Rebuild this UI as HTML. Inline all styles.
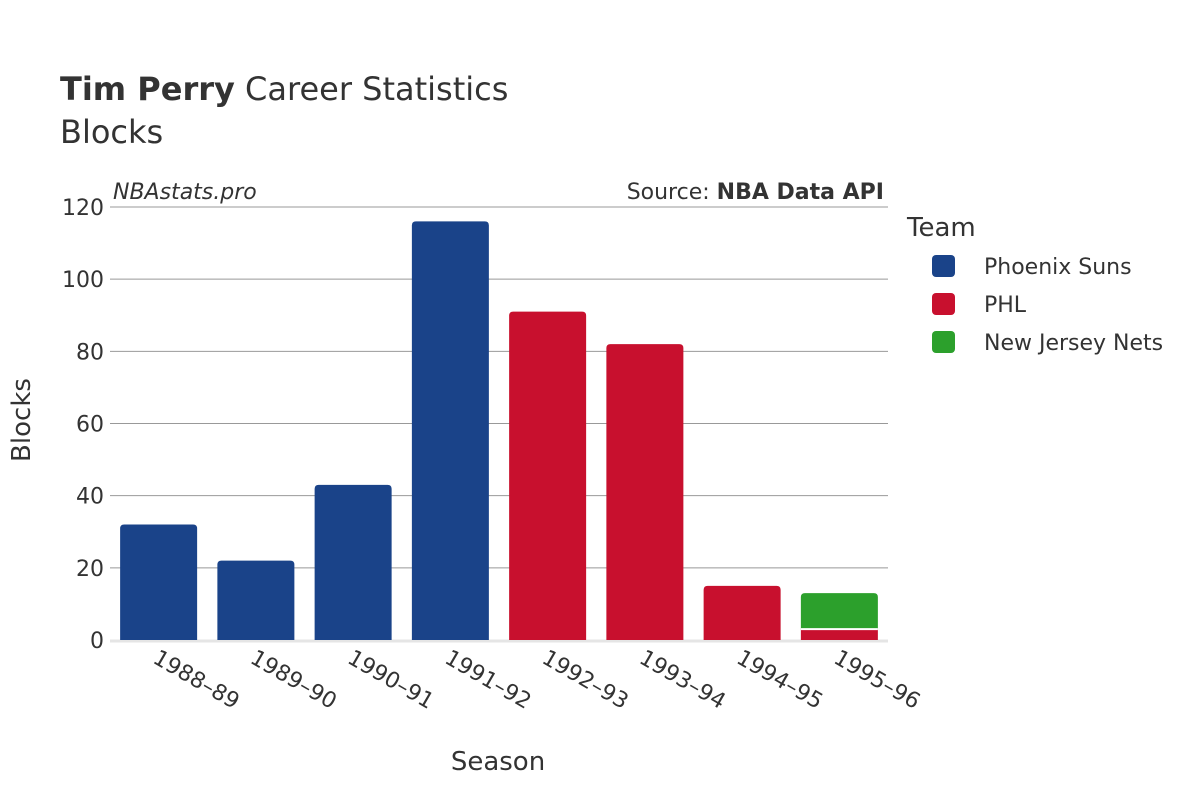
<!DOCTYPE html>
<html><head><meta charset="utf-8"><style>
body{margin:0;background:#fff;}
svg{font-family:"DejaVu Sans","Liberation Sans",sans-serif;}
</style></head><body>
<svg id="chart" width="1200" height="800" viewBox="0 0 1200 800">
<text x="60" y="100" font-size="32" fill="#333"><tspan font-weight="bold">Tim Perry</tspan> Career Statistics</text>
<text x="60" y="143" font-size="32" fill="#333">Blocks</text>
<text x="113" y="199" font-size="22" font-style="italic" fill="#333">NBAstats.pro</text>
<text x="884" y="199" font-size="22" fill="#333" text-anchor="end">Source: <tspan font-weight="bold">NBA Data API</tspan></text>
<g id="grid"></g>
<g id="bars"></g>
<g id="xticks"></g>
<text x="30" y="420" font-size="26" fill="#333" text-anchor="middle" transform="rotate(-90 30 420)">Blocks</text>
<text x="498" y="770" font-size="26" fill="#333" text-anchor="middle">Season</text>
<g>
<text x="907" y="236" font-size="26" fill="#333">Team</text>
<g><rect x="932" y="255" width="23" height="22" rx="4" fill="#1a4389"/><text x="984" y="274" font-size="22" fill="#333">Phoenix Suns</text></g>
<g><rect x="932" y="293" width="23" height="22" rx="4" fill="#c8102e"/><text x="984" y="312" font-size="22" fill="#333">PHL</text></g>
<g><rect x="932" y="331" width="23" height="22" rx="4" fill="#2ca02c"/><text x="984" y="350" font-size="22" fill="#333">New Jersey Nets</text></g>
</g>
</svg>
<script>
const seasons=["1988–89","1989–90","1990–91","1991–92","1992–93","1993–94","1994–95","1995–96"];
const suns=[32,22,43,116,0,0,0,0];
const phl=[0,0,0,0,91,82,15,3];
const nets=[0,0,0,0,0,0,0,10];
const yTicks=[0,20,40,60,80,100,120];
const NS="http://www.w3.org/2000/svg";
const x0=110,x1=888,y0=640,y1=207,yMax=120;
const bw=(x1-x0)/seasons.length;
function y(v){return y0-(v/yMax)*(y0-y1);}
function xc(i){return x0+bw*(i+0.5);}
function mk(t,a,p){const e=document.createElementNS(NS,t);for(const k in a)e.setAttribute(k,a[k]);p.appendChild(e);return e;}
const grid=document.getElementById('grid');
yTicks.forEach(t=>{
  if(t>0){const l=mk('line',{x1:x0,x2:x1,y1:y(t),y2:y(t),stroke:'#999','stroke-width':1},grid);
  
  }
  const tx=mk('text',{x:104,y:y(t)+8,'font-size':22,fill:'#333','text-anchor':'end'},grid);
  tx.textContent=t;
  
  
});
const base=mk('line',{x1:x0,x2:x1,y1:y0+1,y2:y0+1,stroke:'#e5e5e5','stroke-width':3},grid);


const bars=document.getElementById('bars');
function bar(i,lo,hi,color,name,round){
  const w=77,l=xc(i)-w/2,r=l+w,yt=y(hi),yb=y(lo),rr=round?Math.min(4,(yb-yt)/2):0;
  const d=`M${l},${yb}L${l},${yt+rr}Q${l},${yt} ${l+rr},${yt}L${r-rr},${yt}Q${r},${yt} ${r},${yt+rr}L${r},${yb}Z`;
  const p=mk('path',{d:d,fill:color},bars);
  
  
}
seasons.forEach((s,i)=>{
  let acc=0;
  if(suns[i]>0){bar(i,acc,acc+suns[i],'#1a4389','bar-suns-'+s,true);acc+=suns[i];}
  if(phl[i]>0){bar(i,acc,acc+phl[i],'#c8102e','bar-phl-'+s,nets[i]===0);acc+=phl[i];}
  if(nets[i]>0){
    const sep=mk('line',{x1:xc(i)-38.5,x2:xc(i)+38.5,y1:y(acc),y2:y(acc),stroke:'#fff','stroke-width':2},bars);
    bar(i,acc,acc+nets[i],'#2ca02c','bar-nets-'+s,true);
    bars.appendChild(sep);
    
    
    acc+=nets[i];}
});
const xt=document.getElementById('xticks');
seasons.forEach((s,i)=>{
  const X=xc(i)-7,Y=662;
  const t=mk('text',{x:X,y:Y,'font-size':22,fill:'#333',transform:`rotate(30 ${X} ${Y})`},xt);
  t.textContent=s;
  
  
});
</script>
</body></html>
